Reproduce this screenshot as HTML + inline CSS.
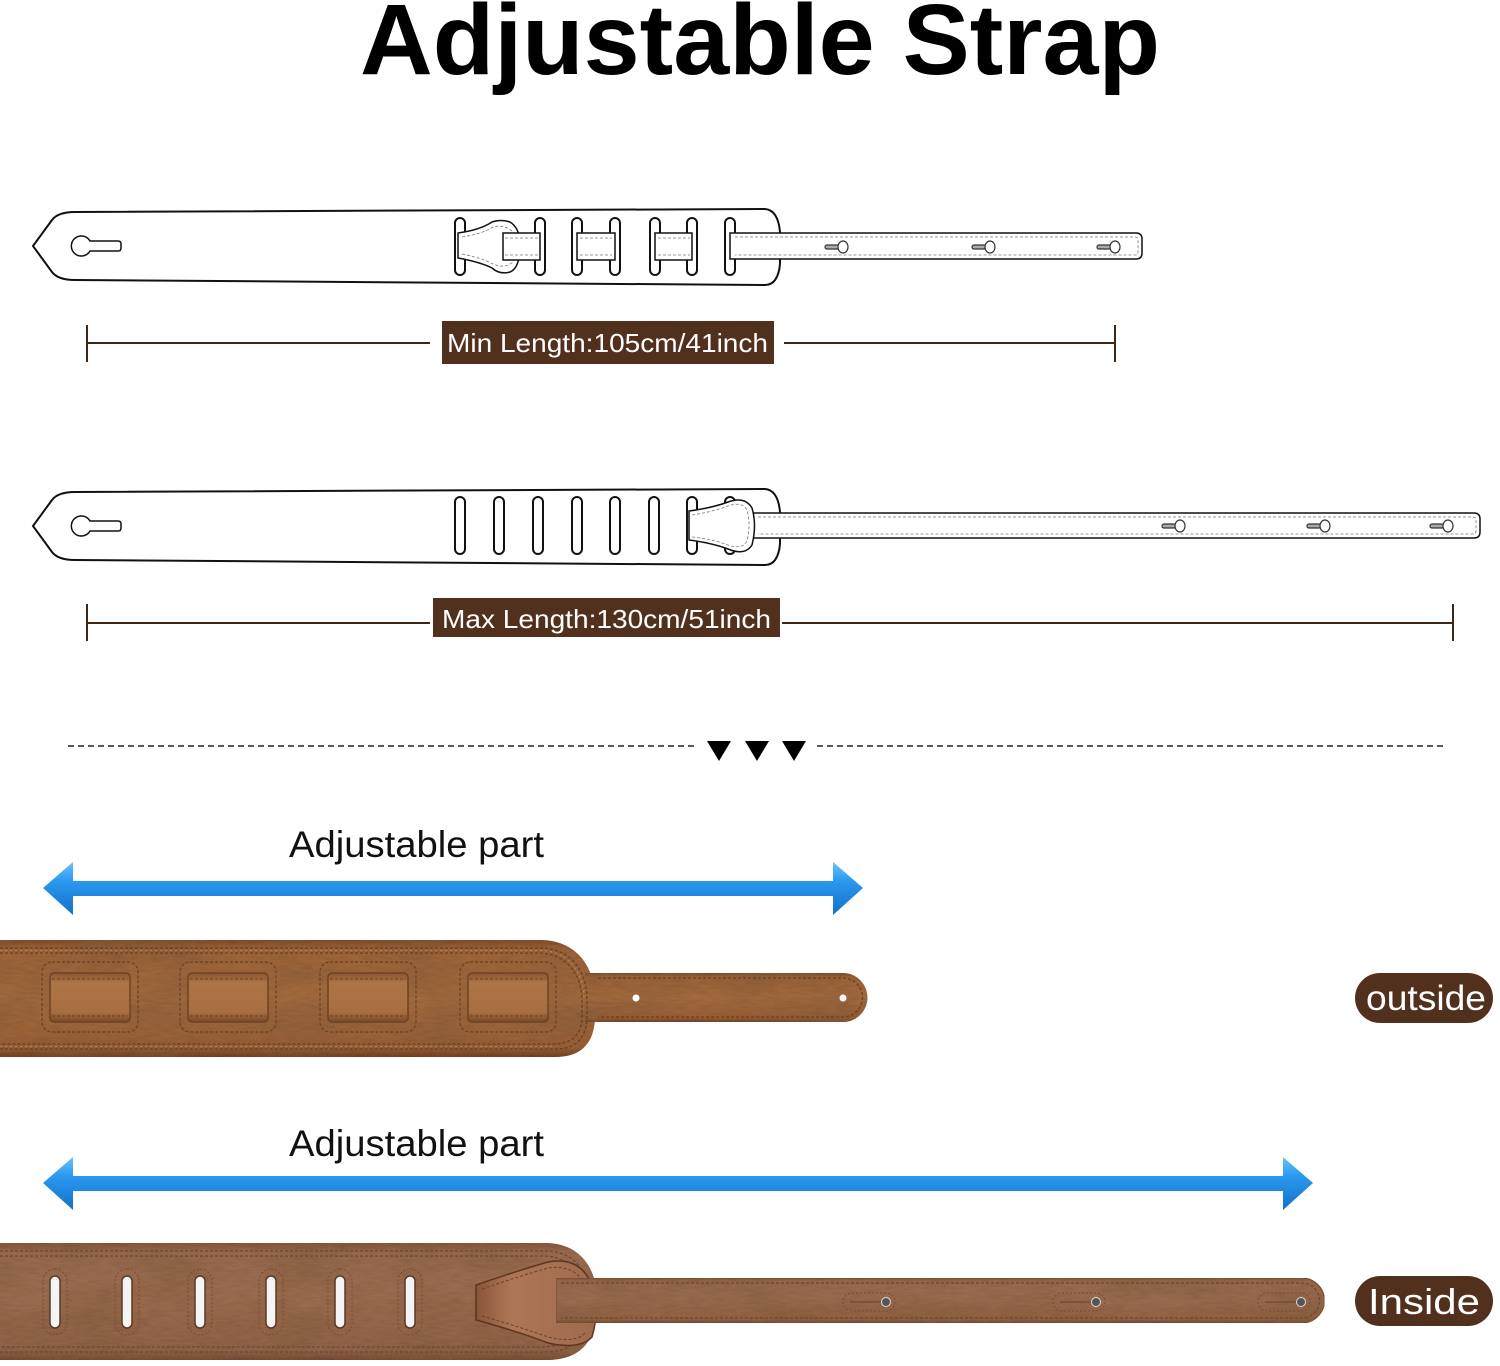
<!DOCTYPE html>
<html><head><meta charset="utf-8"><style>
html,body{margin:0;padding:0;background:#fff;}
svg{display:block;}
text{font-family:"Liberation Sans",Arial,sans-serif;}
</style></head><body>
<svg width="1500" height="1366" viewBox="0 0 1500 1366" xmlns="http://www.w3.org/2000/svg">
<defs>
<linearGradient id="blue" x1="0" y1="0" x2="0" y2="1">
<stop offset="0" stop-color="#6cc3fb"/><stop offset="0.35" stop-color="#2a9af0"/><stop offset="1" stop-color="#1470c8"/>
</linearGradient>
<linearGradient id="leatherO" x1="0" y1="0" x2="0" y2="1">
<stop offset="0" stop-color="#84502d"/><stop offset="0.08" stop-color="#a2673c"/><stop offset="0.5" stop-color="#a96f43"/><stop offset="0.92" stop-color="#9d633a"/><stop offset="1" stop-color="#744427"/>
</linearGradient>
<linearGradient id="suede" x1="0" y1="0" x2="0" y2="1">
<stop offset="0" stop-color="#8a5b40"/><stop offset="0.08" stop-color="#9e6e51"/><stop offset="0.5" stop-color="#a17053"/><stop offset="0.92" stop-color="#97674b"/><stop offset="1" stop-color="#7a4e36"/>
</linearGradient>
<linearGradient id="loop" x1="0" y1="0" x2="0" y2="1">
<stop offset="0" stop-color="#885431"/><stop offset="0.2" stop-color="#ad7446"/><stop offset="0.8" stop-color="#a76e42"/><stop offset="1" stop-color="#774828"/>
</linearGradient>
<linearGradient id="tab" x1="0" y1="0" x2="1" y2="0">
<stop offset="0" stop-color="#8a5538"/><stop offset="0.3" stop-color="#ad7756"/><stop offset="1" stop-color="#9f6a4c"/>
</linearGradient>
<filter id="tex" x="0" y="0" width="100%" height="100%">
<feTurbulence type="fractalNoise" baseFrequency="0.08 0.4" numOctaves="2" seed="3" result="n"/>
<feColorMatrix in="n" type="matrix" values="0 0 0 0 0  0 0 0 0 0  0 0 0 0 0  0 0 0 0.25 0" result="a"/>
<feComposite in="a" in2="SourceGraphic" operator="in" result="b"/>
<feTurbulence type="fractalNoise" baseFrequency="0.015 0.03" numOctaves="2" seed="7" result="m"/>
<feColorMatrix in="m" type="matrix" values="0 0 0 0 0.25  0 0 0 0 0.12  0 0 0 0 0.05  0 0 0 -1.2 0.75" result="ma"/>
<feComposite in="ma" in2="SourceGraphic" operator="in" result="mb"/>
<feMerge><feMergeNode in="SourceGraphic"/><feMergeNode in="mb"/><feMergeNode in="b"/></feMerge>
</filter>
</defs>

<!-- Title -->
<text x="360" y="74" font-size="100" font-weight="bold" fill="#000" textLength="800" lengthAdjust="spacingAndGlyphs">Adjustable Strap</text>

<!-- ===== Strap 1 (min) ===== -->
<g stroke="#111" stroke-width="2" fill="#fff">
<path d="M33 246 L52 220 Q58 212 75 212 L765 209 Q778 210 780 232 L780 264 Q778 285 765 285 L75 280 Q58 280 52 272 Z"/>
<path d="M90 241 L118 241 Q121 241 121 244 L121 248 Q121 251 118 251 L90 251 A10 10 0 1 1 90 241 Z" stroke-width="1.5"/>
<rect x="455" y="218" width="10" height="57" rx="5"/>
<rect x="535" y="218" width="10" height="57" rx="5"/>
<rect x="572" y="218" width="10" height="57" rx="5"/>
<rect x="610" y="218" width="10" height="57" rx="5"/>
<rect x="650" y="218" width="10" height="57" rx="5"/>
<rect x="687" y="218" width="10" height="57" rx="5"/>
<rect x="725" y="218" width="10" height="57" rx="5"/>
<path d="M458 233 Q480 230 492 222 Q500 219 510 222 Q520 228 520 245 Q520 268 510 272 Q500 275 492 268 Q480 262 458 258 Z" stroke-width="1.5"/>
<rect x="503" y="233" width="37" height="27" stroke-width="1.5"/>
<rect x="577" y="233" width="38" height="27" stroke-width="1.5"/>
<rect x="655" y="233" width="37" height="27" stroke-width="1.5"/>
<path d="M730 233 L1136 233 Q1142 233 1142 239 L1142 253 Q1142 259 1136 259 L730 259 Z" stroke-width="1.5"/>
</g>
<g stroke="#777" stroke-width="0.8" stroke-dasharray="3 2" fill="none">
<path d="M462 237 Q482 234 493 227 Q505 224 513 232 M462 254 Q482 258 493 264 Q505 269 513 262"/>
<line x1="505" y1="238" x2="538" y2="238"/><line x1="505" y1="255" x2="538" y2="255"/>
<line x1="580" y1="238" x2="612" y2="238"/><line x1="580" y1="255" x2="612" y2="255"/>
<line x1="658" y1="238" x2="690" y2="238"/><line x1="658" y1="255" x2="690" y2="255"/>
<path d="M735 237 L1135 237 Q1138 237 1138 240 L1138 252 Q1138 255 1135 255 L735 255"/>
</g>
<g fill="#fff" stroke="#333" stroke-width="1.2">
<rect x="825" y="245" width="14" height="4" rx="2" fill="#aaa"/><ellipse cx="843" cy="247" rx="5" ry="6"/>
<rect x="972" y="245" width="14" height="4" rx="2" fill="#aaa"/><ellipse cx="990" cy="247" rx="5" ry="6"/>
<rect x="1097" y="245" width="14" height="4" rx="2" fill="#aaa"/><ellipse cx="1115" cy="247" rx="5" ry="6"/>
</g>

<!-- Min dimension -->
<g stroke="#3d2818" stroke-width="2">
<line x1="87" y1="325" x2="87" y2="362"/><line x1="87" y1="343" x2="430" y2="343"/>
<line x1="784" y1="343" x2="1115" y2="343"/><line x1="1115" y1="325" x2="1115" y2="362"/>
</g>
<rect x="442" y="321" width="332" height="43" fill="#52301e"/>
<text x="447" y="352" font-size="26" fill="#fff" textLength="321" lengthAdjust="spacingAndGlyphs">Min Length:105cm/41inch</text>

<!-- ===== Strap 2 (max) ===== -->
<g stroke="#111" stroke-width="2" fill="#fff">
<path d="M33 526 L52 500 Q58 492 75 492 L765 489 Q778 490 780 512 L780 544 Q778 565 765 565 L75 560 Q58 560 52 552 Z"/>
<path d="M90 521 L118 521 Q121 521 121 524 L121 528 Q121 531 118 531 L90 531 A10 10 0 1 1 90 521 Z" stroke-width="1.5"/>
<rect x="455" y="497" width="10" height="57" rx="5"/>
<rect x="494" y="497" width="10" height="57" rx="5"/>
<rect x="533" y="497" width="10" height="57" rx="5"/>
<rect x="572" y="497" width="10" height="57" rx="5"/>
<rect x="610" y="497" width="10" height="57" rx="5"/>
<rect x="649" y="497" width="10" height="57" rx="5"/>
<rect x="687" y="497" width="10" height="57" rx="5"/>
<rect x="725" y="497" width="10" height="57" rx="5"/>
<path d="M750 513 L1474 513 Q1480 513 1480 519 L1480 532 Q1480 538 1474 538 L750 538 Z" stroke-width="1.5"/>
<path d="M689 511 Q712 508 728 502 Q745 496 752 508 Q757 525 752 545 Q745 556 728 549 Q712 543 689 540 Z" stroke-width="1.5"/>
</g>
<g stroke="#777" stroke-width="0.8" stroke-dasharray="3 2" fill="none">
<path d="M692 515 Q712 512 728 506 Q742 501 747 510 Q751 525 747 541 Q742 550 728 545 Q712 539 692 537"/>
<path d="M758 517 L1473 517 Q1476 517 1476 520 L1476 531 Q1476 534 1473 534 L758 534"/>
</g>
<g fill="#fff" stroke="#333" stroke-width="1.2">
<rect x="1162" y="524" width="14" height="4" rx="2" fill="#aaa"/><ellipse cx="1180" cy="526" rx="5" ry="6"/>
<rect x="1307" y="524" width="14" height="4" rx="2" fill="#aaa"/><ellipse cx="1325" cy="526" rx="5" ry="6"/>
<rect x="1430" y="524" width="14" height="4" rx="2" fill="#aaa"/><ellipse cx="1448" cy="526" rx="5" ry="6"/>
</g>

<!-- Max dimension -->
<g stroke="#3d2818" stroke-width="2">
<line x1="87" y1="604" x2="87" y2="641"/><line x1="87" y1="623" x2="430" y2="623"/>
<line x1="782" y1="623" x2="1453" y2="623"/><line x1="1453" y1="604" x2="1453" y2="641"/>
</g>
<rect x="433" y="598" width="347" height="39" fill="#52301e"/>
<text x="442" y="628" font-size="26" fill="#fff" textLength="329" lengthAdjust="spacingAndGlyphs">Max Length:130cm/51inch</text>

<!-- Dashed divider -->
<g stroke="#222" stroke-width="1.5" stroke-dasharray="6 4">
<line x1="68" y1="746" x2="697" y2="746"/><line x1="817" y1="746" x2="1446" y2="746"/>
</g>
<g fill="#000">
<polygon points="707,741 731,741 719,761"/>
<polygon points="745,741 769,741 757,761"/>
<polygon points="782,741 806,741 794,761"/>
</g>

<!-- Adjustable part 1 -->
<text x="289" y="857" font-size="37" fill="#111" textLength="255" lengthAdjust="spacingAndGlyphs">Adjustable part</text>
<path d="M43 888 L73 862 L73 881 L833 881 L833 862 L863 888 L833 915 L833 896 L73 896 L73 915 Z" fill="url(#blue)"/>

<!-- Outside leather strap -->
<g filter="url(#tex)">
<path d="M0 940 H540 C575 940 595 965 595 1000 L595 1020 C593 1045 580 1057 555 1057 H0 Z" fill="url(#leatherO)"/>
<path d="M585 973 H843 A24.5 24.5 0 0 1 843 1022 H585 Z" fill="url(#leatherO)"/>
</g>
<g fill="none" stroke="#6a3f22" stroke-width="1.3" stroke-dasharray="3 2">
<path d="M0 948 H540 C570 948 587 970 587 1000 L587 1020 C585 1040 575 1049 555 1049 H0"/>
<path d="M0 953 H538 C565 953 582 973 582 1000 L582 1020 C580 1037 570 1044 553 1044 H0"/>
<path d="M598 978 H843 A19.5 19.5 0 0 1 843 1017 H598"/>
</g>
<g fill="none" stroke="#e0b080" stroke-width="0.8" stroke-dasharray="2 3" opacity="0.6">
<path d="M0 950.5 H540 C568 950.5 584 972 584 1000"/>
<path d="M0 1046.5 H554"/>
</g>
<circle cx="636" cy="998" r="3.5" fill="#fff"/><circle cx="843" cy="998" r="3.5" fill="#fff"/>
<g>
<g stroke="#6a3f22" stroke-width="1.2" stroke-dasharray="3 2" fill="none">
<rect x="42" y="962" width="96" height="70" rx="10"/>
<rect x="180" y="962" width="96" height="70" rx="10"/>
<rect x="320" y="962" width="96" height="70" rx="10"/>
<rect x="460" y="962" width="96" height="70" rx="10"/>
</g>
<g fill="url(#loop)" stroke="#6e4222" stroke-width="1.5">
<rect x="50" y="973" width="80" height="49" rx="4"/>
<rect x="188" y="973" width="80" height="49" rx="4"/>
<rect x="328" y="973" width="80" height="49" rx="4"/>
<rect x="468" y="973" width="80" height="49" rx="4"/>
</g>
<g stroke="#6a3f22" stroke-width="1" stroke-dasharray="3 2" fill="none">
<path d="M52 979 H128 M52 1016 H128"/><path d="M190 979 H266 M190 1016 H266"/>
<path d="M330 979 H406 M330 1016 H406"/><path d="M470 979 H546 M470 1016 H546"/>
</g>
</g>
<rect x="1355" y="973" width="138" height="50" rx="25" fill="#52301e"/>
<text x="1366" y="1010" font-size="35" fill="#fff" textLength="120" lengthAdjust="spacingAndGlyphs">outside</text>

<!-- Adjustable part 2 -->
<text x="289" y="1156" font-size="37" fill="#111" textLength="255" lengthAdjust="spacingAndGlyphs">Adjustable part</text>
<path d="M43 1183 L73 1157 L73 1176 L1283 1176 L1283 1157 L1313 1183 L1283 1210 L1283 1191 L73 1191 L73 1210 Z" fill="url(#blue)"/>

<!-- Inside suede strap -->
<g filter="url(#tex)">
<path d="M0 1243 H545 C580 1243 597 1268 597 1300 C597 1338 585 1358 550 1360 H0 Z" fill="url(#suede)"/>
</g>
<g fill="none" stroke="#6f4530" stroke-width="1.2" stroke-dasharray="3 2">
<path d="M0 1251 H545 C575 1251 589 1272 589 1300 C589 1333 578 1350 548 1352 H0"/>
<path d="M0 1256 H543 C570 1256 584 1276 584 1300 C584 1328 574 1344 546 1347 H0"/>
</g>
<!-- tab -->
<path d="M476 1285 Q520 1270 548 1262 Q580 1256 592 1285 Q600 1310 592 1337 Q580 1350 548 1343 Q520 1332 476 1320 Z" fill="url(#tab)" stroke="#5d3520" stroke-width="1.5"/>
<path d="M482 1289 Q520 1276 548 1268 Q576 1264 586 1287 M482 1316 Q520 1327 548 1337 Q576 1344 586 1332" fill="none" stroke="#6d4128" stroke-width="1" stroke-dasharray="3 2"/>
<!-- tail on top -->
<g filter="url(#tex)">
<path d="M556 1278 H1302 A22.5 22.5 0 0 1 1302 1323 H556 Z" fill="url(#suede)" stroke="#7a4d34" stroke-width="1"/>
</g>
<path d="M561 1283 H1302 A17.5 17.5 0 0 1 1302 1318 H561" fill="none" stroke="#6f4530" stroke-width="1.2" stroke-dasharray="3 2"/>
<!-- slots -->
<g fill="#f4f4f4" stroke="#5a3825" stroke-width="1.5">
<rect x="50" y="1276" width="10" height="52" rx="5"/>
<rect x="122" y="1276" width="10" height="52" rx="5"/>
<rect x="195" y="1276" width="10" height="52" rx="5"/>
<rect x="266" y="1276" width="10" height="52" rx="5"/>
<rect x="335" y="1276" width="10" height="52" rx="5"/>
<rect x="405" y="1276" width="10" height="52" rx="5"/>
</g>
<g fill="none" stroke="#7a4a30" stroke-width="1" stroke-dasharray="2 2">
<rect x="43" y="1269" width="24" height="66" rx="12"/>
<rect x="115" y="1269" width="24" height="66" rx="12"/>
<rect x="188" y="1269" width="24" height="66" rx="12"/>
<rect x="259" y="1269" width="24" height="66" rx="12"/>
<rect x="328" y="1269" width="24" height="66" rx="12"/>
<rect x="398" y="1269" width="24" height="66" rx="12"/>
<rect x="843" y="1293" width="52" height="18" rx="9"/>
<rect x="1053" y="1293" width="52" height="18" rx="9"/>
<rect x="1258" y="1293" width="52" height="18" rx="9"/>
</g>
<g>
<line x1="850" y1="1302" x2="882" y2="1302" stroke="#6a4030" stroke-width="1"/>
<line x1="1060" y1="1302" x2="1092" y2="1302" stroke="#6a4030" stroke-width="1"/>
<line x1="1265" y1="1302" x2="1297" y2="1302" stroke="#6a4030" stroke-width="1"/>
<circle cx="886" cy="1302" r="4.5" fill="#555" stroke="#ddd" stroke-width="1"/>
<circle cx="1096" cy="1302" r="4.5" fill="#555" stroke="#ddd" stroke-width="1"/>
<circle cx="1301" cy="1302" r="4.5" fill="#555" stroke="#ddd" stroke-width="1"/>
</g>
<rect x="1355" y="1276" width="138" height="50" rx="25" fill="#52301e"/>
<text x="1368" y="1314" font-size="36" fill="#fff" textLength="112" lengthAdjust="spacingAndGlyphs">Inside</text>
</svg>
</body></html>
